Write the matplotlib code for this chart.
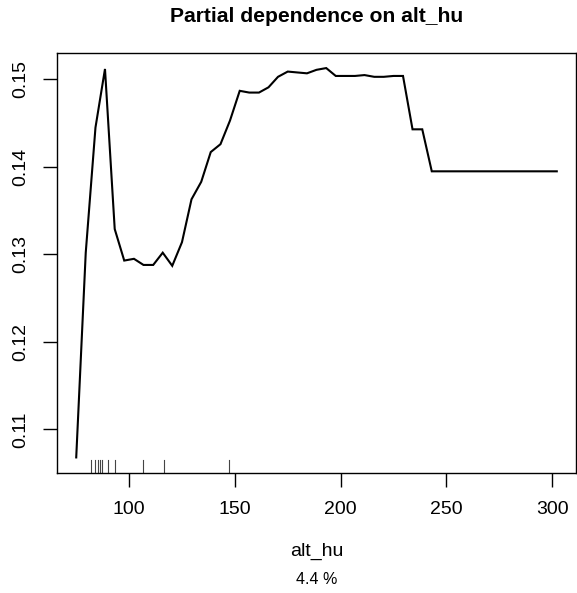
import matplotlib
matplotlib.use("Agg")
import matplotlib.pyplot as plt

plt.rcParams['font.family'] = ['Liberation Sans', 'DejaVu Sans']

# partial dependence curve
alt_hu = [75.0, 79.5, 84.1, 88.6, 93.2, 97.7, 102.3, 106.8, 111.4, 115.9,
          120.4, 125.0, 129.5, 134.1, 138.6, 143.2, 147.7, 152.3, 156.8, 161.4,
          165.9, 170.4, 175.0, 179.5, 184.1, 188.6, 193.2, 197.7, 202.2, 206.8,
          211.3, 215.9, 220.4, 225.0, 229.5, 234.0, 238.6, 243.1, 247.7, 252.2,
          256.8, 261.3, 265.9, 270.4, 275.0, 279.5, 284.0, 288.6, 293.1, 297.7,
          302.2]
pd_value = [0.1068, 0.1302, 0.1445, 0.1512, 0.1329, 0.1293, 0.1295, 0.1288, 0.1288, 0.1302,
            0.1287, 0.1314, 0.1363, 0.1383, 0.1417, 0.1426, 0.1453, 0.1487, 0.1485, 0.1485,
            0.1491, 0.1503, 0.1509, 0.1508, 0.1507, 0.1511, 0.1513, 0.1504, 0.1504, 0.1504,
            0.1505, 0.1503, 0.1503, 0.1504, 0.1504, 0.1443, 0.1443, 0.1395, 0.1395, 0.1395,
            0.1395, 0.1395, 0.1395, 0.1395, 0.1395, 0.1395, 0.1395, 0.1395, 0.1395, 0.1395,
            0.1395]

# rug (deciles of the predictor)
rug = [81.9, 83.8, 85.1, 86.2, 87.0, 90.2, 93.5, 106.7, 116.3, 147.3]

x_ticks = [100, 150, 200, 250, 300]
y_ticks = [0.11, 0.12, 0.13, 0.14, 0.15]

W, H = 577, 593
fig = plt.figure(figsize=(W / 100, H / 100), dpi=100)
ax = fig.add_axes([57 / W, 1 - 473 / H, (576 - 57) / W, (473 - 52.5) / H])

ax.plot(alt_hu, pd_value, color='black', lw=1.5, solid_joinstyle='miter')

xr = max(alt_hu) - min(alt_hu)
yr = max(pd_value) - min(pd_value)
ax.set_xlim(min(alt_hu) - 0.04 * xr, max(alt_hu) + 0.04 * xr)
ax.set_ylim(min(pd_value) - 0.04 * yr, max(pd_value) + 0.04 * yr)

for r in rug:
    ax.plot([r, r], [0, 0.03], transform=ax.get_xaxis_transform(),
            color='#444444', lw=0.8)

ax.set_xticks(x_ticks)
ax.set_yticks(y_ticks)
ax.set_yticklabels([f"{v:.2f}" for v in y_ticks], rotation=90, va='center')
ax.tick_params(direction='out', length=10, width=1, labelsize=14, colors='black')
ax.tick_params(axis='x', pad=10)
ax.tick_params(axis='y', pad=10)
for s in ax.spines.values():
    s.set_linewidth(1)

fig.text(316.5 / W, 1 - 16.5 / H, "Partial dependence on alt_hu",
         ha='center', va='center', fontsize=15.2, fontweight='bold')
fig.text(316.5 / W, 1 - 551 / H, "alt_hu", ha='center', va='center', fontsize=14)
fig.text(316.5 / W, 1 - 579 / H, "4.4 %", ha='center', va='center', fontsize=11.5)

fig.savefig("out.png", dpi=100)
